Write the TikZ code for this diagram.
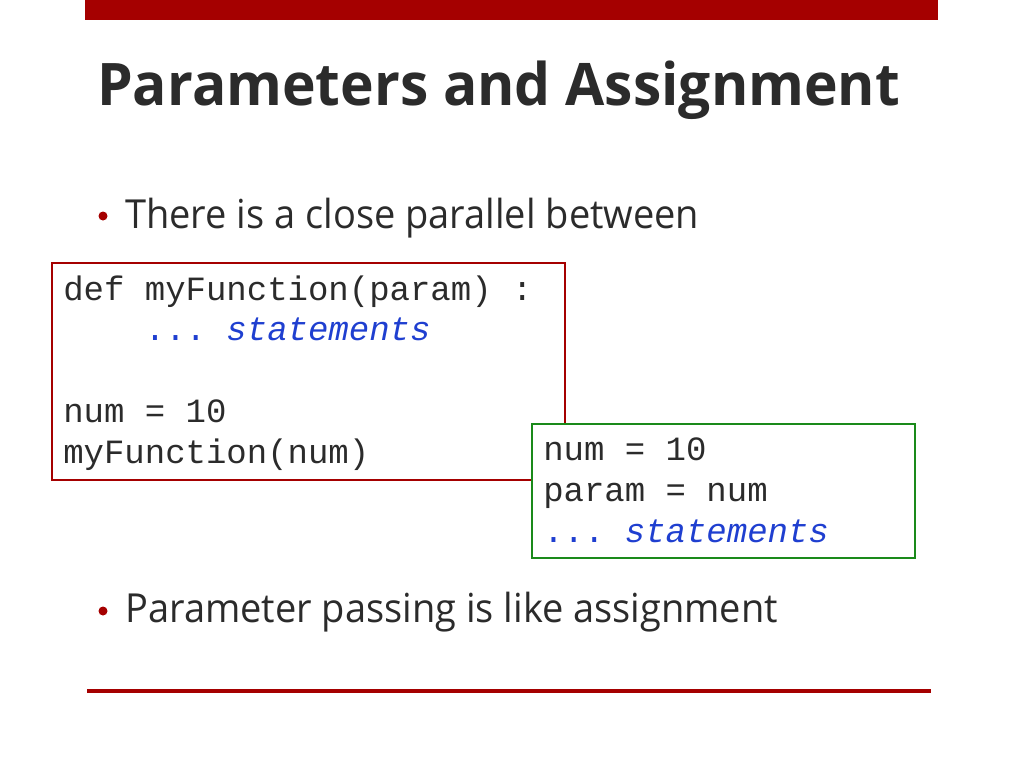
\documentclass[tikz,border=0pt]{standalone}
\usepackage{fontspec}
\setmainfont{Open Sans}
\setmonofont{Liberation Mono}
\definecolor{rbar}{HTML}{A50000}
\definecolor{tgray}{HTML}{2B2B2B}
\definecolor{gbox}{HTML}{1A8A1A}
\definecolor{kw}{HTML}{1F3FD0}
\begin{document}
\begin{tikzpicture}[x=0.75pt,y=-0.75pt,
  code/.style={font=\fontsize{25.5pt}{30.75pt}\selectfont\ttfamily,anchor=base west,inner sep=0pt,text=tgray},
  bul/.style={font=\fontsize{30pt}{36pt}\selectfont,anchor=base west,inner sep=0pt,text=tgray,xscale=0.95}]
\useasboundingbox (0,0) rectangle (1024,768);
\fill[rbar] (85,0) rectangle (938,20);
\node[anchor=base west,inner sep=0pt,text=tgray,font=\fontsize{44pt}{50pt}\selectfont\bfseries,xscale=0.97] (title) at (97,105) {Parameters and Assignment};
\fill[rbar] (103,216) circle (4.5);
\node[bul] (b1) at (125,228) {There is a close parallel between};
\draw[rbar,line width=1.5pt] (52,263) rectangle (565,480);
\node[code] (c1) at (63,300) {def myFunction(param) :};
\node[code,text=kw] (c2) at (63,340) {\ \ \ \ ... \textit{statements}};
\node[code] (c3) at (63,422) {num = 10};
\node[code] (c4) at (63,463) {myFunction(num)};
\draw[gbox,fill=white,line width=1.5pt] (532,424) rectangle (915,558);
\node[code] (d1) at (543,460) {num = 10};
\node[code] (d2) at (543,501) {param = num};
\node[code,text=kw] (d3) at (543,542) {... \textit{statements}};
\fill[rbar] (103,611) circle (4.5);
\node[bul] (b2) at (125,622) {Parameter passing is like assignment};
\draw[rbar,line width=2.5pt] (87,691) -- (931,691);
\end{tikzpicture}
\end{document}
